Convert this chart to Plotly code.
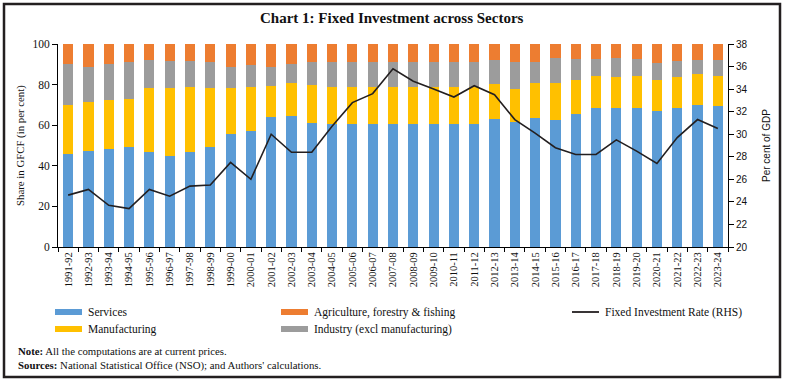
import plotly.graph_objects as go

W, H = 785, 385

years = ["1991-92","1992-93","1993-94","1994-95","1995-96","1996-97","1997-98","1998-99","1999-00","2000-01",
         "2001-02","2002-03","2003-04","2004-05","2005-06","2006-07","2007-08","2008-09","2009-10","2010-11",
         "2011-12","2012-13","2013-14","2014-15","2015-16","2016-17","2017-18","2018-19","2019-20","2020-21",
         "2021-22","2022-23","2023-24"]

services = [45.9,47.4,48.4,49.1,46.9,45.0,47.0,49.1,55.8,57.3,63.8,64.3,61.2,60.8,60.8,60.8,60.8,60.8,60.8,60.8,
            60.8,63.2,61.5,63.7,62.6,65.7,68.5,68.5,68.3,67.0,68.5,70.1,69.5]
manufacturing = [24.1,24.0,24.0,23.6,31.3,33.5,32.0,29.4,22.4,21.7,15.5,16.3,18.8,18.0,18.0,18.0,18.0,18.0,18.0,18.0,
                 18.0,17.3,16.5,17.1,18.4,16.6,15.7,15.1,16.1,15.3,15.1,15.3,14.6]
industry = [20.1,17.1,17.6,18.4,14.1,13.3,12.6,12.8,10.6,10.8,9.5,9.4,11.1,12.3,12.3,12.3,12.3,12.3,12.3,12.3,
            12.3,11.6,12.9,10.5,11.9,10.1,8.6,9.3,8.4,8.2,7.9,6.6,7.9]
agriculture = [9.9,11.5,10.0,8.9,7.7,8.2,8.4,8.7,11.2,10.2,11.2,10.0,8.9,8.9,8.9,8.9,8.9,8.9,8.9,8.9,
               8.9,7.9,9.1,8.7,7.1,7.6,7.2,7.1,7.2,9.5,8.5,8.0,8.0]
fixed_rate = [24.6,25.1,23.7,23.4,25.1,24.5,25.4,25.5,27.5,26.0,30.0,28.4,28.4,30.7,32.8,33.6,35.8,34.7,34.0,33.3,
              34.3,33.5,31.3,30.1,28.8,28.2,28.2,29.5,28.5,27.4,29.7,31.3,30.5]

left_ticks = [0, 20, 40, 60, 80, 100]
right_ticks = [20, 22, 24, 26, 28, 30, 32, 34, 36, 38]

C_SERV = "#5B9BD5"
C_AGRI = "#ED7D31"
C_MANU = "#FFC000"
C_IND = "#9C9C9C"
C_LINE = "#231F20"

SERIF = "Liberation Serif"
SANS = "Liberation Sans"

def px(x):
    return x / W

def py(y):
    return 1 - y / H

fig = go.Figure()
for name, vals, col in [("Services", services, C_SERV),
                        ("Manufacturing", manufacturing, C_MANU),
                        ("Industry (excl manufacturing)", industry, C_IND),
                        ("Agriculture, forestry & fishing", agriculture, C_AGRI)]:
    fig.add_trace(go.Bar(x=years, y=vals, name=name, marker=dict(color=col, line=dict(width=0)),
                         showlegend=False))
fig.add_trace(go.Scatter(x=years, y=fixed_rate, name="Fixed Investment Rate (RHS)", mode="lines",
                         line=dict(color=C_LINE, width=1.6), yaxis="y2", showlegend=False))

fig.update_layout(
    width=W, height=H, autosize=False,
    margin=dict(l=0, r=0, t=0, b=0),
    paper_bgcolor="white", plot_bgcolor="white",
    barmode="stack", bargap=0.5,
    xaxis=dict(domain=[px(58), px(728)], type="category", showline=True, linecolor="#000", linewidth=1,
               ticks="outside", tickson="boundaries", ticklen=4, tickcolor="#000", tickangle=-90,
               tickfont=dict(family=SERIF, size=10.5, color="#111"), showgrid=False, automargin=False),
    yaxis=dict(domain=[py(247), py(44)], range=[0, 100], tickvals=left_ticks, showline=True, linecolor="#000",
               linewidth=1, ticks="outside", ticklen=5, tickcolor="#000", showgrid=False, zeroline=False,
               tickfont=dict(family=SERIF, size=11.5, color="#111"), automargin=False),
    yaxis2=dict(overlaying="y", side="right", range=[20, 38], tickvals=right_ticks, showline=True,
                linecolor="#000", linewidth=1, ticks="outside", ticklen=5, tickcolor="#000", showgrid=False,
                zeroline=False, tickfont=dict(family=SANS, size=10, color="#111"), automargin=False),
    font=dict(family=SERIF, color="#111"),
)

ann = []
ann.append(dict(text="<b>Chart 1: Fixed Investment across Sectors</b>", x=px(392), y=py(18), xref="paper",
                yref="paper", showarrow=False, font=dict(family=SERIF, size=15, color="#111"),
                xanchor="center", yanchor="middle"))
ann.append(dict(text="Share in GFCF (in per cent)", x=px(20), y=py(146), xref="paper", yref="paper",
                showarrow=False, textangle=-90, font=dict(family=SERIF, size=10.8, color="#111"),
                xanchor="center", yanchor="middle"))
ann.append(dict(text="Per cent of GDP", x=px(766), y=py(146), xref="paper", yref="paper",
                showarrow=False, textangle=-90, font=dict(family=SANS, size=10, color="#111"),
                xanchor="center", yanchor="middle"))

shapes = []
legend_items = [
    ("Services", C_SERV, "bar", 55, 312),
    ("Agriculture, forestry & fishing", C_AGRI, "bar", 281, 312),
    ("Fixed Investment Rate (RHS)", C_LINE, "line", 572, 312),
    ("Manufacturing", C_MANU, "bar", 55, 329),
    ("Industry (excl manufacturing)", C_IND, "bar", 281, 329),
]
for label, col, kind, x0, yc in legend_items:
    if kind == "bar":
        shapes.append(dict(type="rect", xref="paper", yref="paper", x0=px(x0), x1=px(x0 + 27),
                           y0=py(yc + 3), y1=py(yc - 3), fillcolor=col, line=dict(width=0)))
    else:
        shapes.append(dict(type="line", xref="paper", yref="paper", x0=px(x0), x1=px(x0 + 27),
                           y0=py(yc), y1=py(yc), line=dict(color=col, width=1.8)))
    ann.append(dict(text=label, x=px(x0 + 31), y=py(yc), xref="paper", yref="paper", showarrow=False,
                    xanchor="left", yanchor="middle", font=dict(family=SERIF, size=11.5, color="#111")))

ann.append(dict(text="<b>Note:</b> All the computations are at current prices.", x=px(16), y=py(351),
                xref="paper", yref="paper", showarrow=False, xanchor="left", yanchor="middle",
                font=dict(family=SERIF, size=10.8, color="#111")))
ann.append(dict(text="<b>Sources:</b> National Statistical Office (NSO); and Authors' calculations.", x=px(16),
                y=py(365), xref="paper", yref="paper", showarrow=False, xanchor="left", yanchor="middle",
                font=dict(family=SERIF, size=10.8, color="#111")))

shapes.append(dict(type="rect", xref="paper", yref="paper", x0=px(4), x1=px(780), y0=py(377), y1=py(4),
                   line=dict(color="#231F20", width=2.5), fillcolor="rgba(0,0,0,0)"))

fig.update_layout(annotations=ann, shapes=shapes)
fig.write_html("out.html", config={"displayModeBar": False},
               post_script="document.body.style.margin='0px';document.body.style.overflow='hidden';")
